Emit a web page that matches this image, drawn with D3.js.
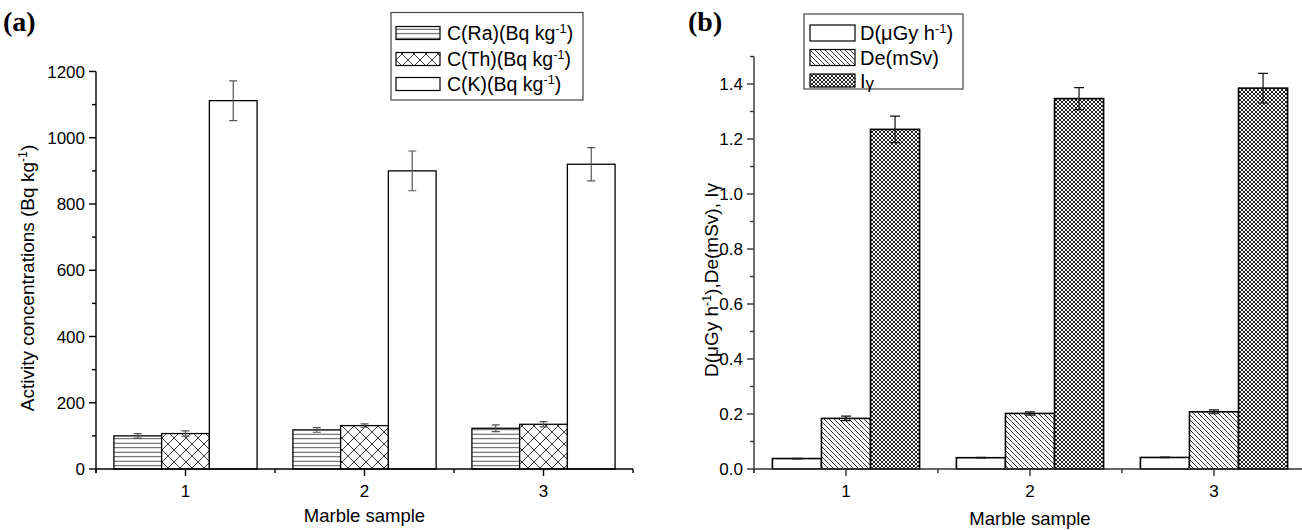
<!DOCTYPE html>
<html><head><meta charset="utf-8">
<script src="https://cdn.jsdelivr.net/npm/d3@7/dist/d3.min.js"></script>
<style>
body{margin:0;background:#fff;}
svg text{font-family:"Liberation Sans",Arial,sans-serif;fill:#000;}
</style></head>
<body><svg id="c" width="1302" height="530"></svg>
<script>
// ---- data ----
const samples = ["1", "2", "3"];
// Panel (a): activity concentrations (Bq/kg)
const seriesA = ["C(Ra)", "C(Th)", "C(K)"];
const cRa = [100, 118, 123];
const cRaErr = [7, 7, 10];
const cTh = [107, 131, 135];
const cThErr = [8, 5, 8];
const cK = [1112, 900, 920];
const cKErr = [60, 60, 50];
const ticksA = [0, 200, 400, 600, 800, 1000, 1200];
// Panel (b)
const seriesB = ["D", "De", "Iγ"];
const dRate = [0.038, 0.041, 0.042];
const dRateErr = [0.001, 0.001, 0.001];
const deVal = [0.184, 0.202, 0.208];
const deErr = [0.008, 0.006, 0.007];
const iGamma = [1.235, 1.347, 1.385];
const iGammaErr = [0.048, 0.040, 0.054];
const ticksB = [0.0, 0.2, 0.4, 0.6, 0.8, 1.0, 1.2, 1.4];

const svg = d3.select("#c");
const defs = svg.append("defs");

function pat(id, w, h, draw){
  const p = defs.append("pattern").attr("id", id).attr("patternUnits","userSpaceOnUse")
    .attr("width", w).attr("height", h);
  p.append("rect").attr("width", w).attr("height", h).attr("fill", "#fff");
  draw(p);
}
pat("hlines", 8, 4.5, p => p.append("path").attr("d","M0,2.2 H8").attr("stroke","#333").attr("stroke-width",0.9));
pat("xhatch", 12, 12, p => p.append("path").attr("d","M0,0 L12,12 M12,0 L0,12").attr("stroke","#222").attr("stroke-width",0.9));
pat("diag", 5, 5, p => p.append("path").attr("d","M0,0 L5,5 M-1,4 L1,6 M4,-1 L6,1").attr("stroke","#222").attr("stroke-width",0.9));
pat("dense", 4, 4, p => p.append("path").attr("d","M0,0 L4,4 M4,0 L0,4").attr("stroke","#222").attr("stroke-width",1));

function panel(opts){
  const g = svg.append("g");
  const x = d3.scaleLinear().domain([0.5, 3.5]).range(opts.xr);
  const y = d3.scaleLinear().domain(opts.yd).range(opts.yr);
  const axisCol = opts.axisCol;
  const step = x(2) - x(1);
  const bw = step * 0.8 / 3;
  opts.series.forEach((s, j) => {
    s.vals.forEach((v, i) => {
      const cx = x(i + 1) + (j - 1) * bw;
      g.append("rect").attr("x", cx - bw/2).attr("y", y(v))
        .attr("width", bw).attr("height", y(0) - y(v))
        .attr("fill", s.fill).attr("stroke", "#000").attr("stroke-width", opts.barSW);
      const e = s.err[i];
      const cw = opts.capW;
      g.append("path").attr("d",
        `M${cx},${y(v+e)} V${y(v-e)} M${cx-cw/2},${y(v+e)} H${cx+cw/2} M${cx-cw/2},${y(v-e)} H${cx+cw/2}`)
        .attr("stroke", opts.errCol).attr("stroke-width", 1.2).attr("fill","none");
    });
  });
  const ya = g.append("g").attr("transform", `translate(${opts.xr[0]},0)`);
  ya.append("line").attr("y1", y(opts.yd[0]) + 4).attr("y2", y(opts.yd[1])).attr("stroke", axisCol).attr("stroke-width", 1.4);
  opts.ticks.forEach(t => {
    ya.append("line").attr("x1", -7).attr("x2", 0).attr("y1", y(t)).attr("y2", y(t)).attr("stroke", axisCol).attr("stroke-width", 1.4);
    ya.append("text").attr("x", -11).attr("y", y(t)).attr("dy", "0.36em").attr("text-anchor","end")
      .attr("font-size", 17).text(opts.fmt(t));
  });
  opts.minor.forEach(t => {
    ya.append("line").attr("x1", -4).attr("x2", 0).attr("y1", y(t)).attr("y2", y(t)).attr("stroke", axisCol).attr("stroke-width", 1.4);
  });
  const xa = g.append("g").attr("transform", `translate(0,${y(0)})`);
  xa.append("line").attr("x1", opts.xr[0]).attr("x2", opts.xr[1]).attr("stroke", axisCol).attr("stroke-width", 1.4);
  samples.forEach((s, i) => {
    xa.append("line").attr("x1", x(i+1)).attr("x2", x(i+1)).attr("y1", 0).attr("y2", 7).attr("stroke", axisCol).attr("stroke-width", 1.4);
    xa.append("text").attr("x", x(i+1)).attr("y", 28).attr("text-anchor","middle").attr("font-size", 17).text(s);
  });
  [0.5, 1.5, 2.5, 3.5].forEach(t => {
    xa.append("line").attr("x1", x(t)).attr("x2", x(t)).attr("y1", 0).attr("y2", 4).attr("stroke", axisCol).attr("stroke-width", 1.4);
  });
  g.append("text").attr("x", (opts.xr[0] + opts.xr[1]) / 2).attr("y", opts.xTitleY)
    .attr("text-anchor","middle").attr("font-size", 18.5).text("Marble sample");
  return {g, x, y};
}

panel({
  xr: [96, 633], yd: [0, 1200], yr: [469, 71.5], axisCol: "#000",
  series: [
    {vals: cRa, err: cRaErr, fill: "url(#hlines)"},
    {vals: cTh, err: cThErr, fill: "url(#xhatch)"},
    {vals: cK, err: cKErr, fill: "#fff"}
  ],
  barSW: 1.3, capW: 8, errCol: "#555",
  ticks: ticksA, minor: d3.range(100, 1200, 200), fmt: d => d3.format("d")(d),
  xTitleY: 522
});
panel({
  xr: [754, 1306], yd: [0, 1.5], yr: [469, 56.5], axisCol: "#333",
  series: [
    {vals: dRate, err: dRateErr, fill: "#fff"},
    {vals: deVal, err: deErr, fill: "url(#diag)"},
    {vals: iGamma, err: iGammaErr, fill: "url(#dense)"}
  ],
  barSW: 1.6, capW: 10, errCol: "#111",
  ticks: ticksB, minor: d3.range(0.1, 1.55, 0.2), fmt: d3.format(".1f"),
  xTitleY: 525
});

function sup(t, s){ t.append("tspan").attr("baseline-shift","super").attr("font-size","65%").text(s); }
let t = svg.append("text").attr("transform","translate(34,278) rotate(-90)").attr("text-anchor","middle").attr("font-size",19);
t.append("tspan").text("Activity concentrations (Bq kg"); sup(t, "-1"); t.append("tspan").text(")");
t = svg.append("text").attr("transform","translate(718,280) rotate(-90)").attr("text-anchor","middle").attr("font-size",19);
t.append("tspan").text("D(μGy h"); sup(t, "-1"); t.append("tspan").text("),De(mSv), Iγ");

svg.append("text").attr("x", 3).attr("y", 31).attr("font-size", 28).attr("font-weight","bold")
  .style("font-family","'Liberation Serif','Times New Roman',serif").text("(a)");
svg.append("text").attr("x", 688).attr("y", 31).attr("font-size", 28).attr("font-weight","bold")
  .style("font-family","'Liberation Serif','Times New Roman',serif").text("(b)");

function legend(box, rows){
  const g = svg.append("g");
  g.append("rect").attr("x", box.x).attr("y", box.y).attr("width", box.w).attr("height", box.h)
    .attr("fill","#fff").attr("stroke","#444").attr("stroke-width",1.2);
  rows.forEach(r => {
    g.append("rect").attr("x", box.sx).attr("y", r.cy - r.h/2).attr("width", box.sw).attr("height", r.h)
      .attr("fill", r.fill).attr("stroke","#000").attr("stroke-width",1.2);
    const tx = g.append("text").attr("x", box.tx).attr("y", r.cy).attr("dy","0.36em").attr("font-size",box.fs);
    r.label(tx);
  });
}
legend({x:391, y:12.5, w:192, h:87.5, sx:396, sw:44, tx:447, fs:19.5}, seriesA.map((s, i) => ({
  cy: [33, 59, 84][i], h: 13, fill: ["url(#hlines)","url(#xhatch)","#fff"][i],
  label: tx => { tx.append("tspan").text(s + "(Bq kg"); sup(tx, "-1"); tx.append("tspan").text(")"); }
})));
legend({x:804, y:14, w:159, h:75, sx:810, sw:45, tx:860, fs:20}, seriesB.map((s, i) => ({
  cy: [33, 57.5, 80.5][i], h: [16, 16, 13][i], fill: ["#fff","url(#diag)","url(#dense)"][i],
  label: tx => {
    if (i === 0) { tx.append("tspan").text("D(μGy h"); sup(tx, "-1"); tx.append("tspan").text(")"); }
    else if (i === 1) tx.text("De(mSv)");
    else { tx.append("tspan").text("I"); tx.append("tspan").attr("dy", 1).attr("font-size","85%").text("γ"); }
  }
})));
</script></body></html>
